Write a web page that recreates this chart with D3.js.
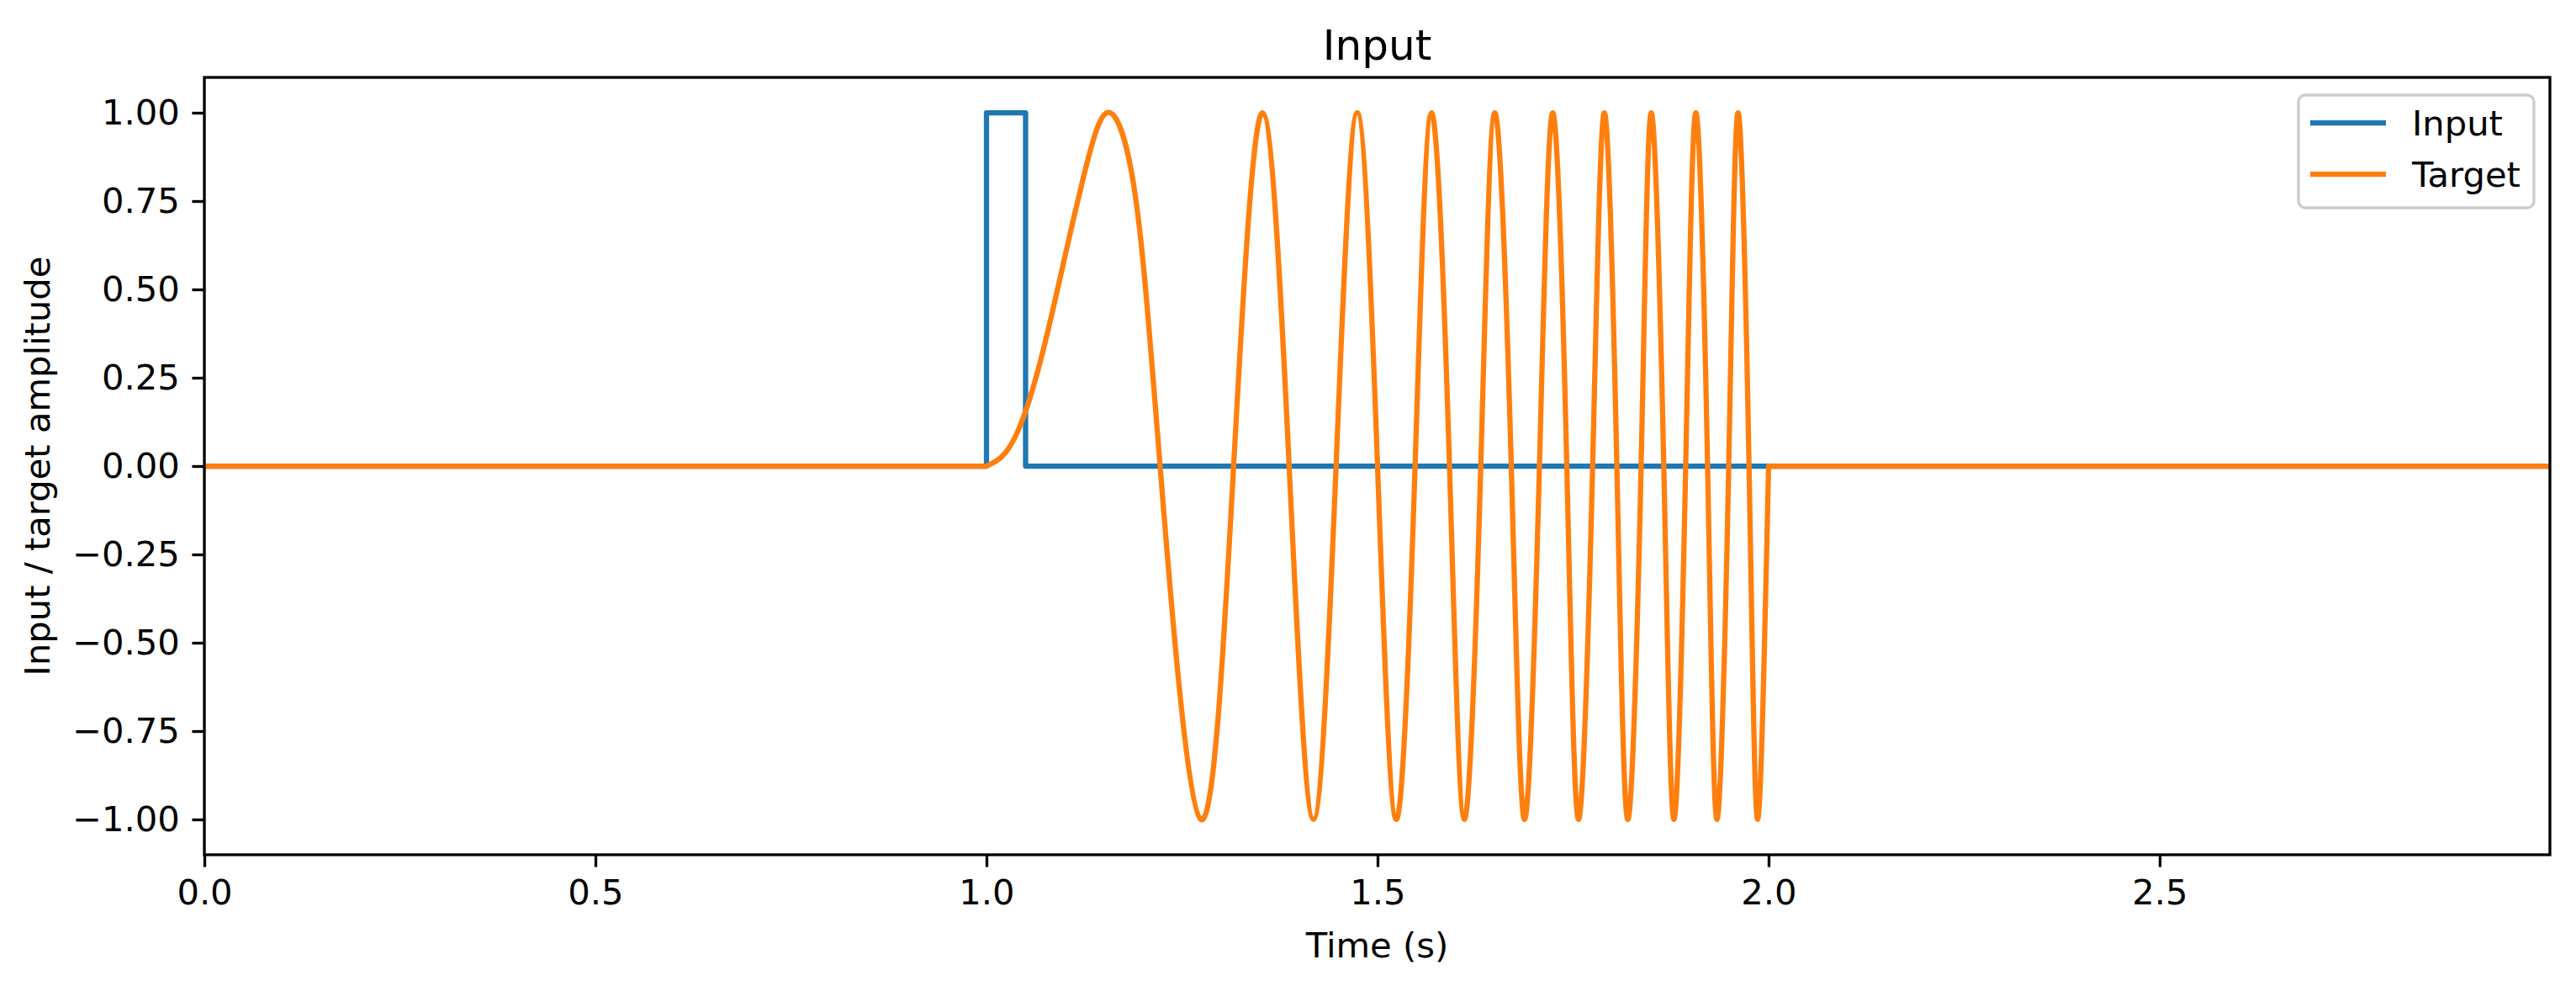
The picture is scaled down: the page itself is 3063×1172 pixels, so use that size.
<!DOCTYPE html>
<html>
<head>
<meta charset="utf-8">
<script src="https://cdn.jsdelivr.net/npm/d3@7"></script>
<style>
  html, body { margin: 0; padding: 0; background: #ffffff; }
  svg { display: block; }
</style>
</head>
<body>
<svg id="chart" width="3063" height="1172"></svg>
<script>
// ---------------- data ----------------
const inputTime  = [0, 1.0, 1.0, 1.05, 1.05, 2.999];
const inputValue = [0, 0,   1,   1,    0,    0];

const targetTime = [
  0, 1.0, 1.025, 1.05, 1.075, 1.10, 1.13, 1.158, 1.19,
  1.222, 1.274, 1.316, 1.353, 1.387, 1.418, 1.447, 1.474,
  1.500, 1.524, 1.548, 1.569, 1.592, 1.611, 1.632, 1.650,
  1.671, 1.688, 1.707, 1.724, 1.742, 1.757, 1.775, 1.790,
  1.806, 1.820, 1.837, 1.850, 1.866, 1.879, 1.894, 1.907,
  1.922, 1.934, 1.949, 1.961, 1.975, 1.986, 2.000, 2.999
];
const targetValue = [
  0, 0, 0.04, 0.155, 0.35, 0.59, 0.87, 1, 0.77,
  0, -1, 0, 1, 0, -1, 0, 1,
  0, -1, 0, 1, 0, -1, 0, 1,
  0, -1, 0, 1, 0, -1, 0, 1,
  0, -1, 0, 1, 0, -1, 0, 1,
  0, -1, 0, 1, 0, -1, 0, 0
];

const xTicks = [0, 0.5, 1.0, 1.5, 2.0, 2.5];
const yTicks = [-1.0, -0.75, -0.5, -0.25, 0, 0.25, 0.5, 0.75, 1.0];
const seriesNames = ["Input", "Target"];
const seriesColors = ["#1f77b4", "#ff7f0e"];
const titleText = "Input";
const xLabelText = "Time (s)";
const yLabelText = "Input / target amplitude";

(function () {
// ---------------- layout ----------------
const FONT = "DejaVu Sans, sans-serif";
const FS = 41.67;            // 10pt @ 300dpi
const pL = 243, pR = 3032, pT = 92, pB = 1016;
const svg = d3.select("#chart");

const x = d3.scaleLinear().domain([0, 2.999]).range([pL, pR]);
const y = d3.scaleLinear().domain([-1.1, 1.1]).range([pB, pT]);

svg.append("defs").append("clipPath").attr("id", "clip")
  .append("rect").attr("x", pL).attr("y", pT)
  .attr("width", pR - pL).attr("height", pB - pT);

// ---------------- lines ----------------
const plot = svg.append("g").attr("clip-path", "url(#clip)");

const inputData = inputTime.map((t, i) => ({t, v: inputValue[i]}));
const targetData = targetTime.map((t, i) => ({t, v: targetValue[i]}));

const linear = d3.line().x(d => x(d.t)).y(d => y(d.v)).curve(d3.curveLinear);
const smooth = d3.line().x(d => x(d.t)).y(d => y(d.v)).curve(d3.curveNatural);

function styleLine(sel, color) {
  sel.attr("fill", "none").attr("stroke", color).attr("stroke-width", 6.25)
     .attr("stroke-linejoin", "round").attr("stroke-linecap", "square");
}

plot.append("path").datum(inputData).attr("d", linear).call(styleLine, seriesColors[0]);

const tgtBefore = targetData.filter(d => d.t <= 1.0);
const tgtChirp  = targetData.filter(d => d.t >= 1.0 && d.t <= 2.0);
const tgtAfter  = targetData.filter(d => d.t >= 2.0);
const pathChirp = smooth(tgtChirp);
const pathBefore = linear(tgtBefore), pathAfter = linear(tgtAfter);
plot.append("path")
  .attr("d", pathBefore + "L" + pathChirp.slice(1) + "L" + pathAfter.slice(1))
  .call(styleLine, seriesColors[1]);

// ---------------- axes ----------------
const xAxis = d3.axisBottom(x).tickValues(xTicks).tickFormat(d3.format(".1f"))
  .tickSize(14.6).tickPadding(14.6);
const yAxis = d3.axisLeft(y).tickValues(yTicks).tickFormat(d3.format(".2f"))
  .tickSize(14.6).tickPadding(14.6);

const gx = svg.append("g").attr("transform", `translate(0,${pB})`).call(xAxis);
const gy = svg.append("g").attr("transform", `translate(${pL},0)`).call(yAxis);
[gx, gy].forEach(g => {
  g.select(".domain").remove();
  g.selectAll(".tick line").attr("stroke", "#000").attr("stroke-width", 3.33);
  g.selectAll(".tick text").attr("fill", "#000")
    .style("font-family", FONT).style("font-size", FS + "px");
});

// frame
svg.append("rect").attr("x", pL).attr("y", pT)
  .attr("width", pR - pL).attr("height", pB - pT)
  .attr("fill", "none").attr("stroke", "#000").attr("stroke-width", 3.33);

// ---------------- labels ----------------
svg.append("text").attr("x", (pL + pR) / 2).attr("y", 71)
  .attr("text-anchor", "middle").style("font-family", FONT).style("font-size", "50px")
  .text(titleText);

svg.append("text").attr("x", (pL + pR) / 2).attr("y", 1123)
  .attr("text-anchor", "middle").attr("dominant-baseline", "central")
  .style("font-family", FONT).style("font-size", FS + "px")
  .text(xLabelText);

svg.append("text").attr("transform", `translate(44,${(pT + pB) / 2}) rotate(-90)`)
  .attr("text-anchor", "middle").attr("dominant-baseline", "central")
  .style("font-family", FONT).style("font-size", FS + "px")
  .text(yLabelText);

// ---------------- legend ----------------
const lg = svg.append("g");
lg.append("rect").attr("x", 2733).attr("y", 113).attr("width", 280).attr("height", 134)
  .attr("rx", 8).attr("fill", "#ffffff").attr("fill-opacity", 0.8)
  .attr("stroke", "#cccccc").attr("stroke-width", 3.3);
seriesNames.forEach((name, i) => {
  const yy = 146 + i * 61;
  lg.append("line").attr("x1", 2747).attr("x2", 2837).attr("y1", yy).attr("y2", yy)
    .attr("stroke", seriesColors[i]).attr("stroke-width", 6.25).attr("stroke-linecap", "butt");
  lg.append("text").attr("x", 2868).attr("y", yy).attr("dominant-baseline", "central")
    .style("font-family", FONT).style("font-size", FS + "px").text(name);
});
})();
</script>
</body>
</html>
